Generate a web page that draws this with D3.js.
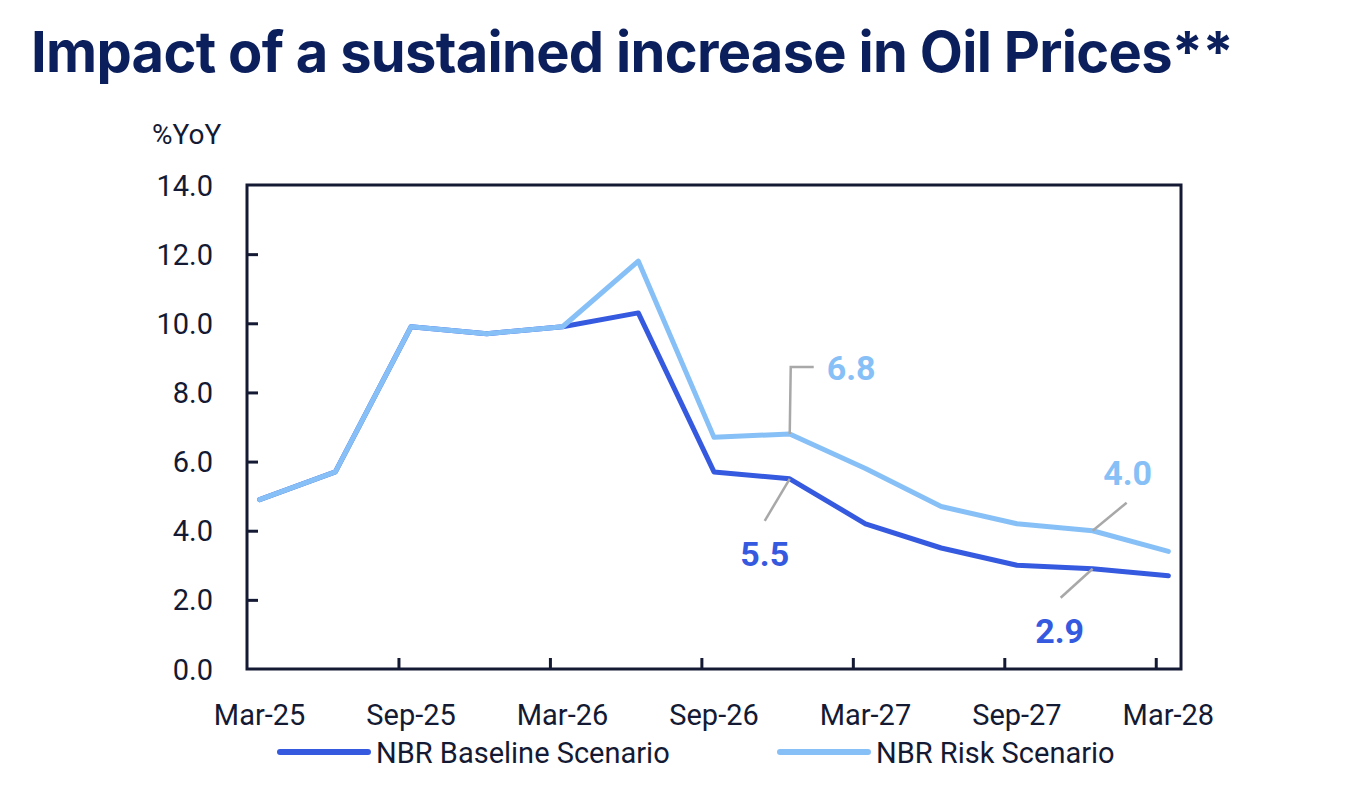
<!DOCTYPE html>
<html>
<head>
<meta charset="utf-8">
<script src="https://cdn.jsdelivr.net/npm/d3@7"></script>
<style>
  html, body { margin: 0; padding: 0; background: #fff; overflow: hidden; }
  svg { display: block; }
  text { font-family: Roboto, "Noto Sans", sans-serif; fill: #141a33; }
  .title { font-family: Inter, Roboto, sans-serif; font-weight: 700; fill: #0b1f5c; }
  .lbl { font-weight: 700; }
</style>
</head>
<body>
<svg width="1368" height="796"></svg>
<script>
// quarterly points, Mar-25 .. Mar-28
const quarters = ['Mar-25','Jun-25','Sep-25','Dec-25','Mar-26','Jun-26','Sep-26',
                  'Dec-26','Mar-27','Jun-27','Sep-27','Dec-27','Mar-28'];
const baseline = [4.9, 5.7, 9.9, 9.7, 9.9, 10.3, 5.7, 5.5, 4.2, 3.5, 3.0, 2.9, 2.7];
const risk     = [4.9, 5.7, 9.9, 9.7, 9.9, 11.8, 6.7, 6.8, 5.8, 4.7, 4.2, 4.0, 3.4];
const xTickLabels = ['Mar-25','Sep-25','Mar-26','Sep-26','Mar-27','Sep-27','Mar-28'];
const yTicks = [0, 2, 4, 6, 8, 10, 12, 14];
const seriesNames = ['NBR Baseline Scenario', 'NBR Risk Scenario'];

const svg = d3.select('svg');
const width = +svg.attr('width');
const height = +svg.attr('height');

const colBase = '#3559df';
const colRisk = '#86c0f6';
const axisCol = '#141a33';
const leaderCol = '#a8a8a8';

const margin = {top: 185, right: 187, bottom: 127, left: 247};

// monthly axis, 37 month bands; each quarter sits mid-band
const xScale = d3.scaleLinear().domain([0, 37]).range([margin.left, width - margin.right]);
const yScale = d3.scaleLinear().domain([0, 14]).range([height - margin.bottom, margin.top]);
const monthOf = i => i * 3 + 0.5;

svg.append('rect').attr('width', width).attr('height', height).attr('fill', '#fff');

svg.append('text')
    .attr('class', 'title')
    .attr('x', 31)
    .attr('y', 72)
    .attr('font-size', 56)
    .attr('letter-spacing', -0.7)
    .text('Impact of a sustained increase in Oil Prices**');

svg.append('text')
    .attr('x', 152)
    .attr('y', 144)
    .attr('font-size', 28)
    .text('%YoY');

// y axis: inward ticks from the axis generator, labels placed with the scale
const yAxisG = svg.append('g')
    .attr('transform', `translate(${margin.left}, 0)`)
    .call(d3.axisLeft(yScale).tickValues(yTicks.filter(d => d > 0 && d < 14)).tickSize(-11).tickFormat(''));
yAxisG.select('.domain').remove();
yAxisG.selectAll('line').attr('stroke', axisCol).attr('stroke-width', 3);

svg.append('g').selectAll('text').data(yTicks)
    .enter().append('text')
        .attr('x', margin.left - 34)
        .attr('y', d => yScale(d) + 10.5)
        .attr('text-anchor', 'end')
        .attr('font-size', 29)
        .text(d3.format('.1f'));

// x axis: tick marks at 6-month boundaries, labels at band centres
const xTickG = svg.append('g')
    .attr('transform', `translate(0, ${height - margin.bottom})`)
    .call(d3.axisBottom(xScale).tickValues([6, 12, 18, 24, 30, 36]).tickSize(-11).tickFormat(''));
xTickG.select('.domain').remove();
xTickG.selectAll('line').attr('stroke', axisCol).attr('stroke-width', 3);

svg.append('g').selectAll('text').data(xTickLabels)
    .enter().append('text')
        .attr('x', (d, i) => xScale(monthOf(i * 2)))
        .attr('y', height - margin.bottom + 56)
        .attr('text-anchor', 'middle')
        .attr('font-size', 29)
        .text(d => d);

// frame
svg.append('rect')
    .attr('x', margin.left)
    .attr('y', margin.top)
    .attr('width', width - margin.left - margin.right)
    .attr('height', height - margin.top - margin.bottom)
    .attr('fill', 'none')
    .attr('stroke', axisCol)
    .attr('stroke-width', 3);

const line = d3.line()
    .x((d, i) => xScale(monthOf(i)))
    .y(d => yScale(d));

[[baseline, colBase], [risk, colRisk]].forEach(s => {
    svg.append('path').datum(s[0])
        .attr('d', line)
        .attr('fill', 'none')
        .attr('stroke', s[1])
        .attr('stroke-width', 5)
        .attr('stroke-linejoin', 'round')
        .attr('stroke-linecap', 'round');
});

// data callouts
const callouts = [
    {series: risk, i: 7, color: colRisk, path: [[0, 0], [1, -67], [24, -67]], tx: 37, ty: -54, anchor: 'start'},
    {series: baseline, i: 7, color: colBase, path: [[0, 0], [-25, 42]], tx: -25, ty: 87, anchor: 'middle'},
    {series: risk, i: 11, color: colRisk, path: [[0, 0], [34, -28]], tx: 35, ty: -46, anchor: 'middle'},
    {series: baseline, i: 11, color: colBase, path: [[0, 0], [-32, 29]], tx: -33, ty: 74, anchor: 'middle'}
];

callouts.forEach(c => {
    const px = xScale(monthOf(c.i));
    const py = yScale(c.series[c.i]);
    svg.append('path')
        .attr('d', d3.line()(c.path.map(p => [px + p[0], py + p[1]])))
        .attr('fill', 'none')
        .attr('stroke', leaderCol)
        .attr('stroke-width', 2.5);
    svg.append('text')
        .attr('class', 'lbl')
        .attr('x', px + c.tx)
        .attr('y', py + c.ty)
        .attr('text-anchor', c.anchor)
        .attr('font-size', 34)
        .style('fill', c.color)
        .text(c.series[c.i].toFixed(1));
});

// legend
[[colBase, 280], [colRisk, 780]].forEach((d, i) => {
    svg.append('line')
        .attr('x1', d[1]).attr('x2', d[1] + 88)
        .attr('y1', 752).attr('y2', 752)
        .attr('stroke', d[0])
        .attr('stroke-width', 6)
        .attr('stroke-linecap', 'round');
    svg.append('text')
        .attr('x', d[1] + 96)
        .attr('y', 763)
        .attr('font-size', 29)
        .text(seriesNames[i]);
});
</script>
</body>
</html>
